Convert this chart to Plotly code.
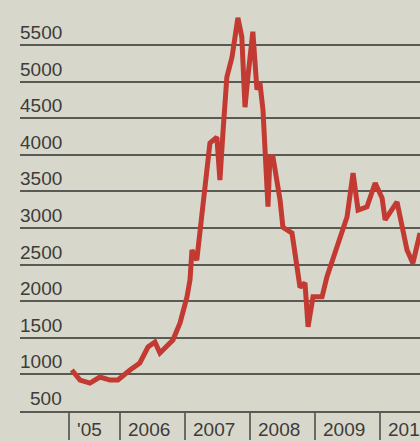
import plotly.graph_objects as go

dates = ["2005-04-05","2005-05-21","2005-07-16","2005-09-10","2005-11-05","2005-12-20",
         "2006-02-26","2006-04-22","2006-06-07","2006-07-16","2006-08-13","2006-09-22",
         "2006-10-25","2006-12-04","2007-01-12","2007-01-29","2007-02-09","2007-03-08",
         "2007-04-11","2007-05-21","2007-06-29","2007-07-16","2007-08-02","2007-08-24",
         "2007-09-22","2007-10-25","2007-11-16","2007-12-04","2007-12-20","2008-01-17",
         "2008-02-09","2008-02-26","2008-03-14","2008-04-11","2008-04-22","2008-05-09",
         "2008-06-18","2008-07-04","2008-08-24","2008-10-08","2008-11-05","2008-11-22",
         "2008-12-20","2009-02-09","2009-03-08","2009-05-21","2009-06-29","2009-08-02",
         "2009-08-30","2009-10-19","2009-12-04","2010-01-12","2010-01-29","2010-04-06",
         "2010-06-01","2010-07-04","2010-08-13"]
values = [1060, 923, 882, 964, 923, 923,
          1060, 1156, 1374, 1443, 1292, 1400,
          1470, 1702, 2057, 2290, 2700, 2560,
          3290, 4160, 4240, 3655, 4300, 5060,
          5335, 5870, 5610, 4650, 5060, 5680,
          4890, 4980, 4610, 3290, 3970, 3970,
          3380, 3010, 2930, 2190, 2250, 1650,
          2060, 2060, 2330, 2840, 3150, 3750,
          3245, 3290, 3615, 3410, 3110, 3355,
          2700, 2520, 2930]

y_ticks = [500, 1000, 1500, 2000, 2500, 3000, 3500, 4000, 4500, 5000, 5500]
x_tick_dates = ["2005-03-19", "2006-01-01", "2007-01-01", "2008-01-01", "2009-01-01", "2010-01-01"]
x_tick_labels = ["'05", "2006", "2007", "2008", "2009", "2010"]

BG = "#d8d7cb"
GRID = "#5a5a55"
TXT = "#3c3c3a"
FONT = "Liberation Sans, Arial, sans-serif"

fig = go.Figure()
fig.add_trace(go.Scatter(x=dates, y=values, mode="lines",
                         line=dict(color="#c23a32", width=5), hoverinfo="skip"))

annotations = []
for v in y_ticks:
    annotations.append(dict(x=64/420, xref="paper", y=v, yref="y", text=str(v),
                            showarrow=False, xanchor="right", yanchor="bottom",
                            font=dict(family=FONT, size=19, color=TXT), yshift=0))
for d, t in zip(x_tick_dates, x_tick_labels):
    annotations.append(dict(x=d, xref="x", y=0, yref="paper", text=t,
                            showarrow=False, xanchor="left", yanchor="top",
                            xshift=6, yshift=-6,
                            font=dict(family=FONT, size=19, color=TXT)))

fig.update_layout(
    width=420, height=442,
    margin=dict(l=0, r=0, t=0, b=31),
    paper_bgcolor=BG, plot_bgcolor=BG,
    showlegend=False,
    annotations=annotations,
    xaxis=dict(domain=[20/420, 1], range=["2004-06-18", "2010-08-13"],
               type="date", showgrid=False, zeroline=False,
               tickmode="array", tickvals=x_tick_dates, showticklabels=False,
               ticks="outside", ticklen=27, tickwidth=1.5, tickcolor="#6a6a66",
               showline=True, linecolor=GRID, linewidth=1.5),
    yaxis=dict(range=[500, 6114], tickmode="array", tickvals=y_ticks,
               showticklabels=False, showgrid=True, gridcolor=GRID, gridwidth=1.5,
               zeroline=False, ticks=""),
)

fig.write_html("out.html")
